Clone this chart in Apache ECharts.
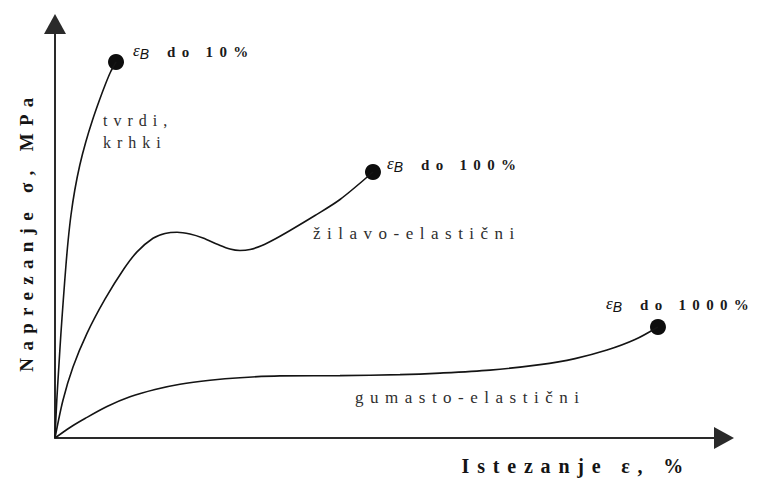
<!DOCTYPE html>
<html>
<head>
<meta charset="utf-8">
<title>Naprezanje - istezanje</title>
<script src="https://cdn.jsdelivr.net/npm/echarts@6/dist/echarts.min.js"></script>
<style>
  html, body { margin: 0; background: #fff; }
  #main { width: 759px; height: 481px; }
  /* the original figure is set with wide letter spacing */
  #main text { letter-spacing: 6px; }
  #main text[style*="20px"] { letter-spacing: 7.8px; }
  #main text[style*="19px"] { letter-spacing: 7.3px; }
  #main text[style*="17px"] { letter-spacing: 6.5px; }
  #main text[style*="16px"] { letter-spacing: 6px; }
  #main text[style*="15px"] { letter-spacing: 6.3px; }
  #main text[style*="italic"] { letter-spacing: 0; }
</style>
</head>
<body>
<div id="main"></div>
<script>
// curves (x and y on a 0..100 schematic scale)
var hardX   = [0, 0.27, 0.57, 0.87, 1.24, 1.64, 1.97, 2.39, 2.96, 3.71, 4.60, 5.61, 6.65, 7.55, 8.30, 9.12];
var hardY   = [0, 9.18, 17.15, 24.88, 33.33, 41.79, 47.83, 53.86, 59.90, 65.94, 71.50, 76.81, 81.64, 85.51, 88.41, 90.82];
var toughX  = [0, 1.20, 2.69, 4.78, 7.47, 10.31, 12.26, 14.65, 16.44, 18.24, 20.18, 22.12, 24.36, 26.16, 27.65, 29.15, 30.94, 32.89, 35.13, 38.86, 42.60, 47.53];
var toughY  = [0, 9.18, 17.15, 25.27, 33.53, 40.87, 44.95, 48.24, 49.40, 49.71, 49.28, 48.31, 46.74, 45.65, 45.29, 45.53, 46.50, 48.07, 50.12, 53.74, 57.61, 64.25];
var rubberX = [0, 2.24, 4.48, 7.77, 11.21, 14.95, 18.68, 23.17, 27.65, 33.63, 42.60, 51.57, 57.55, 65.02, 72.50, 77.73, 82.51, 86.70, 90.13];
var rubberY = [0, 2.54, 4.71, 7.61, 9.95, 11.72, 12.99, 13.95, 14.57, 15.00, 15.07, 15.31, 15.68, 16.40, 17.73, 19.18, 21.23, 23.77, 26.81];
var breakLimits = ['10%', '100%', '1000%'];
var classNames = ['tvrdi,\nkrhki', 'žilavo-elastični', 'gumasto-elastični'];
var yTitle = 'Naprezanje σ, MPa';
var xTitle = 'Istezanje ε, %';

function zip(xs, ys) {
  var out = [];
  for (var i = 0; i < xs.length; i++) out.push([xs[i], ys[i]]);
  return out;
}
function last(xs, ys) { return [xs[xs.length - 1], ys[ys.length - 1]]; }

var ink = '#141414';
var serif = "'Liberation Serif', 'Times New Roman', serif";
var labelOffsets = [[4, -10], [1, -7], [-65, -22]];

var ends = [last(hardX, hardY), last(toughX, toughY), last(rubberX, rubberY)];
var endData = ends.map(function (p, i) {
  return {
    value: p,
    label: { offset: labelOffsets[i] },
    limit: breakLimits[i]
  };
});

function curve(xs, ys) {
  return {
    type: 'line',
    data: zip(xs, ys),
    smooth: 0.3,
    showSymbol: false,
    silent: true,
    lineStyle: { color: ink, width: 1.6 }
  };
}

var axisLine = {
  show: true, onZero: false,
  symbol: ['none', 'triangle'], symbolSize: [22, 20],
  lineStyle: { color: '#2a2a2a', width: 2 }
};

var myChart = echarts.init(document.getElementById('main'), null, { renderer: 'svg' });
var option = {
  animation: false,
  backgroundColor: '#fff',
  grid: { left: 55, top: 24, right: 35, bottom: 43, containLabel: false, outerBoundsMode: 'none' },
  xAxis: {
    type: 'value', min: 0, max: 100,
    axisLine: axisLine,
    axisTick: { show: false }, axisLabel: { show: false }, splitLine: { show: false }
  },
  yAxis: {
    type: 'value', min: 0, max: 100,
    axisLine: axisLine,
    axisTick: { show: false }, axisLabel: { show: false }, splitLine: { show: false },
    name: yTitle, nameLocation: 'middle', nameGap: 19, nameRotate: 90,
    nameTextStyle: { fontFamily: serif, fontWeight: 'bold', fontSize: 19, color: ink }
  },
  series: [
    curve(hardX, hardY),
    curve(toughX, toughY),
    curve(rubberX, rubberY),
    {
      type: 'scatter',
      data: endData,
      symbolSize: 16,
      itemStyle: { color: '#0d0d0d', opacity: 1 },
      silent: true,
      label: {
        show: true,
        position: 'right',
        formatter: function (p) { return '{e|ε}{b|B}{t| do ' + p.data.limit + '}'; },
        rich: {
          e: { fontFamily: serif, fontStyle: 'italic', fontSize: 17, color: '#111', padding: [0, 0, 3, 0] },
          b: { fontFamily: "'Liberation Sans', Arial, sans-serif", fontStyle: 'italic', fontSize: 14, color: '#111', padding: [3, 0, 0, 0] },
          t: { fontFamily: serif, fontWeight: 'bold', fontSize: 15, color: '#1a1a1a', padding: [0, 0, 0, 8] }
        }
      }
    }
  ],
  graphic: [
    { type: 'text', x: 691, y: 466, silent: true,
      style: { text: xTitle, font: 'bold 20px ' + serif, fill: ink, align: 'right', verticalAlign: 'middle' } },
    { type: 'text', x: 103, y: 131, silent: true,
      style: { text: classNames[0], font: '16px ' + serif, fill: '#2e2e2e', lineHeight: 22, verticalAlign: 'middle' } },
    { type: 'text', x: 313, y: 233, silent: true,
      style: { text: classNames[1], font: '17px ' + serif, fill: '#2e2e2e', verticalAlign: 'middle' } },
    { type: 'text', x: 355, y: 397, silent: true,
      style: { text: classNames[2], font: '17px ' + serif, fill: '#2e2e2e', verticalAlign: 'middle' } }
  ]
};
myChart.setOption(option);
</script>
</body>
</html>
